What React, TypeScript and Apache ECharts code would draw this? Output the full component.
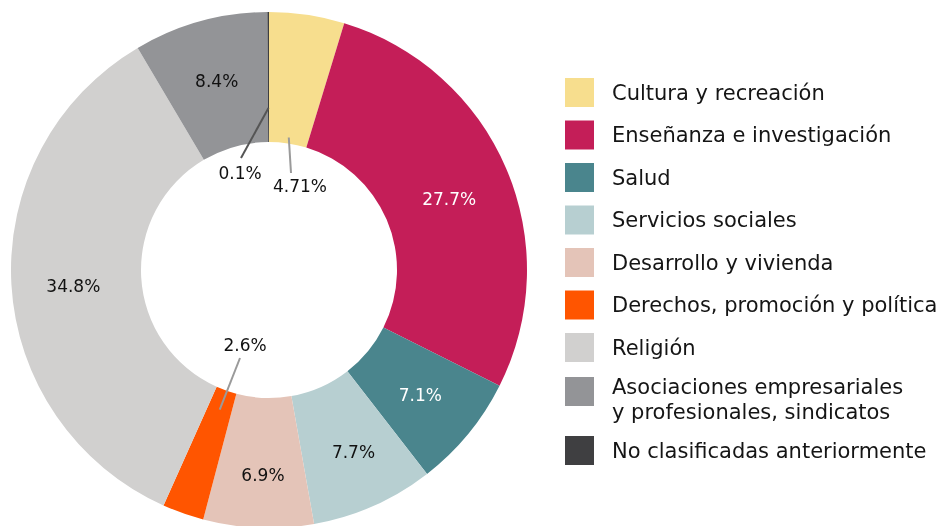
import React, { useEffect, useRef } from "react";
import * as echarts from "echarts";

const categories = [
  "Cultura y recreación",
  "Enseñanza e investigación",
  "Salud",
  "Servicios sociales",
  "Desarrollo y vivienda",
  "Derechos, promoción y política",
  "Religión",
  "Asociaciones empresariales\ny profesionales, sindicatos",
  "No clasificadas anteriormente",
];
const values = [4.71, 27.7, 7.1, 7.7, 6.9, 2.6, 34.8, 8.4, 0.1];
const labels = ["4.71%", "27.7%", "7.1%", "7.7%", "6.9%", "2.6%", "34.8%", "8.4%", "0.1%"];
const colors = ["#F7DE8E", "#C41E58", "#4A858D", "#B7CFD1", "#E4C4B8", "#FF5500", "#D1D0CF", "#939497", "#3F3F41"];
const whiteLabel = [false, true, true, false, false, false, false, false, false];

const CX = 269;
const CY = 270;
const R0 = 128;
const R1 = 258;
const FONT = "'DejaVu Sans', sans-serif";

// labels of the thin slices, placed in the hole (offset from centre)
const centerLabelOffsets: Record<number, [number, number]> = {
  0: [31, -84],
  8: [-29, -97],
  5: [-24, 75],
};
// small nudges of the inside labels
const insideLabelNudges: Record<number, [number, number]> = {
  1: [0, 6],
  3: [5, 3],
  4: [2, 9],
  6: [0, 5],
};
// leader lines: start radius on the slice, end point near label
const leaders = [
  { idx: 0, r: 134, end: [291, 173], color: "#9A9A9A" },
  { idx: 8, r: 162, end: [241, 158], color: "#555555" },
  { idx: 5, r: 148, end: [240, 358], color: "#9A9A9A" },
];

function midAngle(i: number) {
  const total = values.reduce((a, b) => a + b, 0);
  let cum = 0;
  for (let k = 0; k < i; k++) cum += values[k];
  return ((cum + values[i] / 2) / total) * 360;
}
function pointAt(angleDeg: number, r: number): [number, number] {
  const a = (angleDeg * Math.PI) / 180;
  return [CX + r * Math.sin(a), CY - r * Math.cos(a)];
}

export default function App() {
  const ref = useRef<HTMLDivElement>(null);
  useEffect(() => {
    if (!ref.current) return;
    const chart = echarts.init(ref.current, undefined, { renderer: "svg" });
    const data = categories.map((name, i) => {
      const off = centerLabelOffsets[i];
      return {
        name,
        value: values[i],
        itemStyle: { color: colors[i] },
        label: off
          ? { position: "center", offset: off, color: "#111111" }
          : {
              position: "inside",
              offset: insideLabelNudges[i] || [0, 0],
              color: whiteLabel[i] ? "#FFFFFF" : "#111111",
            },
      };
    });
    const legendBase = {
      orient: "vertical",
      left: 565,
      padding: 0,
      itemWidth: 29,
      itemHeight: 29,
      itemGap: 13.5,
      icon: "rect",
      selectedMode: false,
      textStyle: {
        fontFamily: FONT,
        fontSize: 21,
        fontWeight: "normal",
        color: "#151515",
        padding: [0, 0, 0, 13],
      },
    };
    const graphic = leaders.map((l) => {
      const [x1, y1] = pointAt(midAngle(l.idx), l.r);
      return {
        type: "line",
        shape: { x1, y1, x2: l.end[0], y2: l.end[1] },
        style: { stroke: l.color, lineWidth: 2 },
        z: 10,
      };
    });
    chart.setOption({
      animation: false,
      legend: [
        { ...legendBase, top: 78, data: categories.slice(0, 7) },
        {
          ...legendBase,
          top: 363,
          data: [categories[7]],
          formatter: (name: string) => {
            const parts = name.split("\n");
            return "{s| }\n" + parts.map((p) => "{t|" + p + "}").join("\n");
          },
          textStyle: {
            ...legendBase.textStyle,
            rich: {
              s: { fontFamily: FONT, fontSize: 8, lineHeight: 16 },
              t: { fontFamily: FONT, fontSize: 21, lineHeight: 24.5, color: "#151515" },
            },
          },
        },
        { ...legendBase, top: 436, data: [categories[8]] },
      ],
      graphic,
      series: [
        {
          type: "pie",
          center: [CX, CY],
          radius: [R0, R1],
          startAngle: 90,
          clockwise: true,
          avoidLabelOverlap: false,
          labelLine: { show: false },
          label: {
            show: true,
            fontFamily: FONT,
            fontSize: 17,
            fontWeight: "normal",
            formatter: (p: any) => labels[p.dataIndex],
          },
          emphasis: { disabled: true },
          data,
        },
      ],
    });
    return () => chart.dispose();
  }, []);
  return <div ref={ref} style={{ position: "fixed", left: 0, top: 0, width: 948, height: 526 }} />;
}
